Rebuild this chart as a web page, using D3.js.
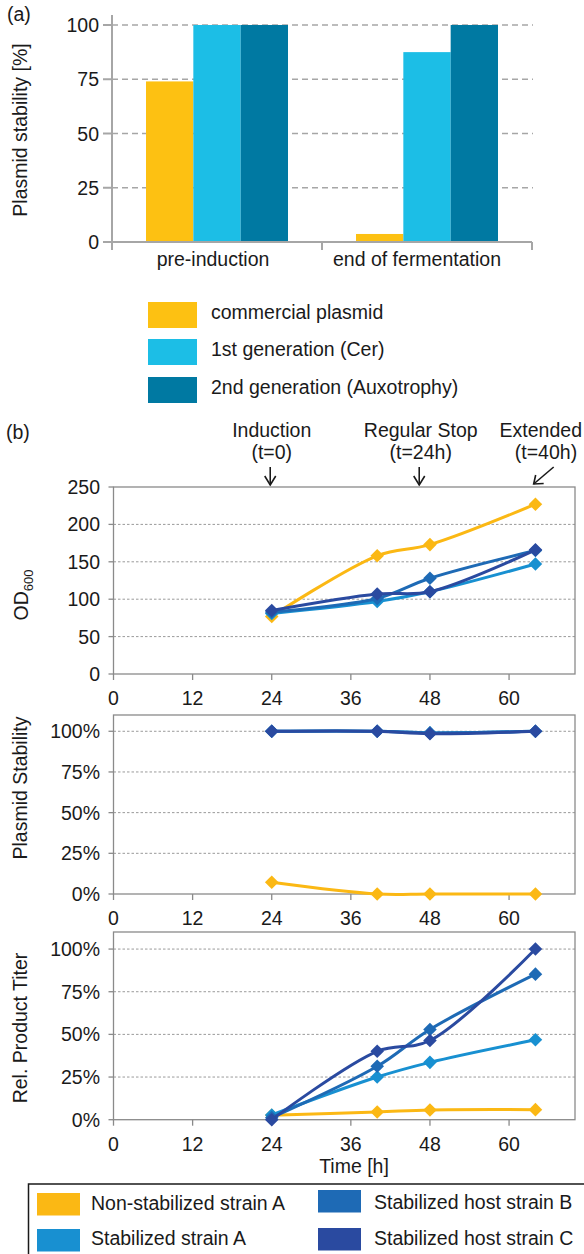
<!DOCTYPE html>
<html><head><meta charset="utf-8">
<script src="https://cdn.jsdelivr.net/npm/d3@7"></script>
<style>
html,body{margin:0;padding:0;background:#fff;}
svg{display:block;}
text{font-family:"Liberation Sans",Arial,Helvetica,sans-serif;fill:#1a1a1a;}
</style></head><body>
<svg id="c" width="584" height="1254"></svg>
<script>
// ---------- DATA ----------
const barCategories = ["pre-induction", "end of fermentation"];
const barSeries = ["commercial plasmid", "1st generation (Cer)", "2nd generation (Auxotrophy)"];
const barCommercial = [74, 3.7];
const barFirstGen = [100, 87.5];
const barSecondGen = [100, 100];
const barTicks = [0, 25, 50, 75, 100];

const times = [24, 40, 48, 64];
const timeTicks = [0, 12, 24, 36, 48, 60];
const strainNames = ["Non-stabilized strain A", "Stabilized strain A", "Stabilized host strain B", "Stabilized host strain C"];

const odNonStabA = [77, 158, 173, 227];
const odStabA = [81, 97, 110, 147];
const odHostB = [83, 101, 128, 165];
const odHostC = [85, 107, 110, 166];
const odTicks = [0, 50, 100, 150, 200, 250];

const stabNonStabA = [0.072, 0, 0, 0];
const stabStabA = [1, 1, 0.99, 1];
const stabHostB = [1, 1, 0.99, 1];
const stabHostC = [1, 1, 0.985, 1];

const titerNonStabA = [0.026, 0.045, 0.057, 0.059];
const titerStabA = [0.028, 0.25, 0.336, 0.468];
const titerHostB = [0.012, 0.313, 0.529, 0.853];
const titerHostC = [0, 0.401, 0.464, 1.0];
const pctTicks = [0, 0.25, 0.5, 0.75, 1];

const eventLabels = ["Induction", "Regular Stop", "Extended"];
const eventTimes = ["(t=0)", "(t=24h)", "(t=40h)"];

// ---------- STYLE ----------
const barColors = ["#FDC112", "#1CBEE6", "#0079A2"];
const lineColors = ["#FBB814", "#1890D1", "#1E6AB5", "#2A4AA0"];
const FS = 19.5;

const svg = d3.select("#c");

// ---------- PANEL (a) ----------
svg.append("text").attr("x", 7).attr("y", 21).style("font-size", FS + "px").text("(a)");

const x0 = d3.scaleBand().domain(barCategories).range([112, 532]).padding(0);
const x1 = d3.scaleBand().domain(barSeries).range([34, 176]).padding(0);
const yb = d3.scaleLinear().domain([0, 100]).range([242, 25]);

const ga = svg.append("g");
ga.selectAll("line.grid").data(barTicks.filter(d => d > 0)).join("line")
  .attr("x1", 112).attr("x2", 533).attr("y1", d => yb(d)).attr("y2", d => yb(d))
  .attr("stroke", "#a6a6a6").attr("stroke-width", 1.6).attr("stroke-dasharray", "6,4");

const barTable = barCategories.map((c, i) => ({cat: c, vals: [barCommercial[i], barFirstGen[i], barSecondGen[i]]}));
const grp = ga.selectAll("g.cat").data(barTable).join("g").attr("transform", d => `translate(${x0(d.cat)},0)`);
grp.selectAll("rect").data(d => d.vals.map((v, j) => ({s: barSeries[j], v, j}))).join("rect")
  .attr("x", d => x1(d.s)).attr("width", x1.bandwidth())
  .attr("y", d => yb(d.v)).attr("height", d => yb(0) - yb(d.v))
  .attr("fill", d => barColors[d.j]);

ga.append("line").attr("x1", 112).attr("x2", 112).attr("y1", 15).attr("y2", 250).attr("stroke", "#a6a6a6").attr("stroke-width", 2);
ga.append("line").attr("x1", 112).attr("x2", 532).attr("y1", 242).attr("y2", 242).attr("stroke", "#a6a6a6").attr("stroke-width", 2);
ga.selectAll("line.ytick").data(barTicks).join("line")
  .attr("x1", 103).attr("x2", 112).attr("y1", d => yb(d)).attr("y2", d => yb(d))
  .attr("stroke", "#a6a6a6").attr("stroke-width", 2);
const catEdges = [x0.range()[0], ...barCategories.map(c => x0(c) + x0.bandwidth())];
ga.selectAll("line.xtick").data(catEdges).join("line")
  .attr("x1", d => d).attr("x2", d => d).attr("y1", 242).attr("y2", 250)
  .attr("stroke", "#a6a6a6").attr("stroke-width", 2);
ga.selectAll("text.yl").data(barTicks).join("text")
  .attr("x", 99).attr("y", d => yb(d)).attr("dy", "0.36em").attr("text-anchor", "end")
  .style("font-size", FS + "px").text(d => d);
const catLabelShift = [-4, -10];
ga.selectAll("text.xl").data(barCategories).join("text")
  .attr("x", (d, i) => x0(d) + x0.bandwidth() / 2 + catLabelShift[i]).attr("y", 266).attr("text-anchor", "middle")
  .style("font-size", FS + "px").text(d => d);
ga.append("text").attr("transform", "translate(27,130) rotate(-90)").attr("text-anchor", "middle")
  .style("font-size", FS + "px").text("Plasmid stability [%]");

// legend (a)
const la = svg.append("g");
barSeries.forEach((s, i) => {
  const yy = [302, 339, 377][i];
  la.append("rect").attr("x", 148).attr("y", yy).attr("width", 49).attr("height", 26).attr("fill", barColors[i]);
  la.append("text").attr("x", 211).attr("y", yy + 17).style("font-size", FS + "px").text(s);
});

// ---------- PANEL (b) ----------
svg.append("text").attr("x", 6).attr("y", 439).style("font-size", FS + "px").text("(b)");

const x = d3.scaleLinear().domain([0, 70]).range([113.5, 575]);

const eventPos = [24, 46.6, 65.6];
eventLabels.forEach((lab, i) => {
  const cx = x(eventPos[i]);
  [[lab, 437], [eventTimes[i], 459]].forEach(([txt, yy]) => {
    const t = svg.append("text").attr("x", cx).attr("y", yy).attr("text-anchor", "middle")
      .style("font-size", FS + "px").text(txt);
    const w = t.node().getComputedTextLength();
    if (cx + w / 2 > 582) t.attr("x", 582 - w / 2);
  });
});
const arrowG = svg.append("g").attr("stroke", "#1a1a1a").attr("stroke-width", 1.6).attr("fill", "none");
[24, 46.6].forEach(t => {
  const ax = x(t) - 1.5;
  arrowG.append("line").attr("x1", ax).attr("x2", ax).attr("y1", 467).attr("y2", 485);
  arrowG.append("path").attr("d", `M${ax - 5.5},476 L${ax},485 L${ax + 5.5},476`);
});
{
  const ex = x(65.4);
  arrowG.append("line").attr("x1", ex + 9).attr("y1", 467).attr("x2", ex - 11).attr("y2", 484);
  arrowG.append("path").attr("d", `M${ex - 1},483.5 L${ex - 11},484 L${ex - 9},475`);
}

const panels = [
  {top: 487, bottom: 674, domain: [0, 250], ticks: odTicks, fmt: d => d, grid: [50, 100, 150, 200],
   series: [odNonStabA, odStabA, odHostB, odHostC]},
  {top: 715, bottom: 894, domain: [0, 1.1], ticks: pctTicks, fmt: d3.format(".0%"), grid: [0.25, 0.5, 0.75, 1],
   series: [stabNonStabA, stabStabA, stabHostB, stabHostC]},
  {top: 932, bottom: 1119.7, domain: [0, 1.1], ticks: pctTicks, fmt: d3.format(".0%"), grid: [0.25, 0.5, 0.75, 1],
   series: [titerNonStabA, titerStabA, titerHostB, titerHostC]}
];

const diamond = d3.symbol().type(d3.symbolSquare).size(92);

panels.forEach(p => {
  const y = d3.scaleLinear().domain(p.domain).range([p.bottom, p.top]);
  const g = svg.append("g");
  g.selectAll("line.grid").data(p.grid).join("line")
    .attr("x1", x(0)).attr("x2", x(70)).attr("y1", d => y(d)).attr("y2", d => y(d))
    .attr("stroke", "#9a9a9a").attr("stroke-width", 1).attr("stroke-dasharray", "2.5,2");
  g.append("rect").attr("x", x(0)).attr("y", p.top).attr("width", x(70) - x(0)).attr("height", p.bottom - p.top)
    .attr("fill", "none").attr("stroke", "#8a8a8a").attr("stroke-width", 1.3);
  g.selectAll("line.xt").data(timeTicks).join("line")
    .attr("x1", d => x(d)).attr("x2", d => x(d)).attr("y1", p.bottom).attr("y2", p.bottom + 6)
    .attr("stroke", "#8a8a8a").attr("stroke-width", 1.3);
  g.selectAll("line.yt").data(p.ticks).join("line")
    .attr("x1", x(0) - 5).attr("x2", x(0)).attr("y1", d => y(d)).attr("y2", d => y(d))
    .attr("stroke", "#8a8a8a").attr("stroke-width", 1.3);
  g.selectAll("text.xl").data(timeTicks).join("text")
    .attr("x", d => x(d)).attr("y", p.bottom + 31).attr("text-anchor", "middle")
    .style("font-size", FS + "px").text(d => d);
  g.selectAll("text.yl").data(p.ticks).join("text")
    .attr("x", 100).attr("y", d => y(d)).attr("dy", "0.36em").attr("text-anchor", "end")
    .style("font-size", FS + "px").text(p.fmt);

  const line = d3.line().x(d => x(d[0])).y(d => y(d[1])).curve(d3.curveCatmullRom.alpha(0.5));
  p.series.forEach((vals, si) => {
    const pts = times.map((t, k) => [t, vals[k]]);
    g.append("path").attr("d", line(pts)).attr("fill", "none")
      .attr("stroke", lineColors[si]).attr("stroke-width", 3).attr("stroke-linejoin", "round");
    g.selectAll(null).data(pts).join("path")
      .attr("d", diamond)
      .attr("transform", d => `translate(${x(d[0])},${y(d[1])}) rotate(45)`)
      .attr("fill", lineColors[si]);
  });
});

const od = svg.append("text").attr("transform", "translate(28,595) rotate(-90)").attr("text-anchor", "middle")
  .style("font-size", FS + "px");
od.append("tspan").text("OD");
od.append("tspan").attr("dy", 5).style("font-size", "13px").text("600");
svg.append("text").attr("transform", "translate(27,788) rotate(-90)").attr("text-anchor", "middle")
  .style("font-size", FS + "px").text("Plasmid Stability");
svg.append("text").attr("transform", "translate(27,1028) rotate(-90)").attr("text-anchor", "middle")
  .style("font-size", FS + "px").text("Rel. Product Titer");
svg.append("text").attr("x", 354).attr("y", 1173).attr("text-anchor", "middle")
  .style("font-size", FS + "px").text("Time [h]");

// legend (b)
const lb = svg.append("g");
lb.append("rect").attr("x", 28.5).attr("y", 1184).attr("width", 600).attr("height", 100)
  .attr("fill", "none").attr("stroke", "#1a1a1a").attr("stroke-width", 1.5);
const legPos = [
  {sx: 37, sy: 1193, tx: 91, ty: 1210},
  {sx: 37, sy: 1229, tx: 91, ty: 1245},
  {sx: 318, sy: 1190, tx: 374, ty: 1209},
  {sx: 318, sy: 1228, tx: 374, ty: 1245}
];
strainNames.forEach((n, i) => {
  const lp = legPos[i];
  lb.append("rect").attr("x", lp.sx).attr("y", lp.sy).attr("width", 43).attr("height", 22.5).attr("fill", lineColors[i]);
  lb.append("text").attr("x", lp.tx).attr("y", lp.ty).style("font-size", FS + "px").text(n);
});
</script>
</body></html>
